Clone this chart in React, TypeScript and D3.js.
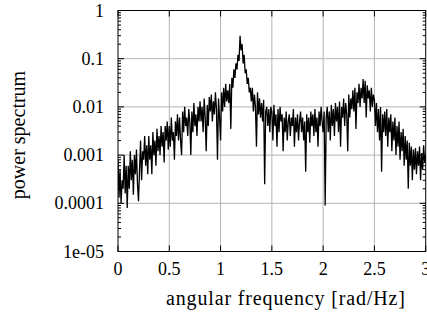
import React from "react";
import * as d3 from "d3";

// angular frequency step between samples
const freqStep = 0.01;

// power spectrum values, one per 0.01 rad/Hz from 0 to 3
const powerSpectrum: number[] = [
  // 0.00 - 0.09
  8e-4, 1.3e-4, 5e-4, 1e-4, 3e-4, 2e-4, 1e-3, 1.6e-4, 6e-4, 8e-5,
  // 0.10 - 0.19
  6e-4, 2e-4, 1.2e-3, 3e-4, 8e-4, 1.5e-4, 1e-3, 4e-4, 1.3e-3, 2.5e-4,
  // 0.20 - 0.29
  1.1e-4, 5e-4, 2e-3, 3e-4, 1.2e-3, 8e-4, 2.5e-3, 6e-4, 1.6e-3, 4e-4,
  // 0.30 - 0.39
  2.5e-3, 8e-4, 1.6e-3, 4e-4, 3e-3, 1e-3, 2e-3, 6e-4, 3.5e-3, 1.2e-3,
  // 0.40 - 0.49
  2.5e-3, 1e-3, 4e-3, 1.5e-3, 3e-3, 7e-4, 4e-3, 2e-3, 5e-3, 1.3e-3,
  // 0.50 - 0.59
  4e-3, 1.5e-3, 6e-3, 2e-3, 3e-3, 8e-4, 5e-3, 2.5e-3, 7e-3, 2e-3,
  // 0.60 - 0.69
  6e-3, 2e-3, 1e-3, 8e-3, 3e-3, 1e-2, 4e-3, 6e-3, 2.5e-3, 9e-3,
  // 0.70 - 0.79
  5e-3, 1e-3, 8e-3, 3e-3, 1.2e-2, 4e-3, 7e-3, 2.5e-3, 1e-2, 5e-3,
  // 0.80 - 0.89
  1.3e-2, 5e-3, 1e-2, 3e-3, 1.5e-2, 6e-3, 1.2e-3, 1.1e-2, 4e-3, 1.6e-2,
  // 0.90 - 0.99
  8e-3, 1.8e-2, 5e-3, 1.3e-2, 7e-3, 2e-2, 9e-3, 8e-4, 1.5e-2, 6e-3,
  // 1.00 - 1.09
  2e-3, 2e-2, 8e-3, 2.5e-2, 1e-2, 3e-2, 1.3e-2, 2.2e-2, 1.2e-2, 3e-2,
  // 1.10 - 1.19
  3.5e-3, 4e-2, 2.5e-2, 6e-2, 4e-2, 8e-2, 6e-2, 1.2e-1, 9e-2, 3e-1,
  // 1.20 - 1.29
  1.5e-1, 2e-1, 8e-2, 1.2e-1, 5e-2, 6e-2, 3e-2, 4e-2, 2e-2, 2.5e-2,
  // 1.30 - 1.39
  1.3e-2, 2.5e-2, 8e-3, 1.8e-2, 1e-2, 1.5e-3, 2e-2, 7e-3, 1.5e-2, 6e-3,
  // 1.40 - 1.49
  1.2e-2, 5e-3, 1.4e-2, 2.5e-4, 8e-3, 1e-2, 4e-3, 9e-3, 3e-3, 1e-2,
  // 1.50 - 1.59
  8e-3, 2e-3, 1.1e-2, 4e-3, 7e-3, 1.5e-3, 9e-3, 3e-3, 1e-2, 5e-3,
  // 1.60 - 1.69
  7e-3, 1.2e-3, 6e-3, 3e-3, 8e-3, 2e-3, 5e-3, 7e-3, 2.5e-3, 6e-3,
  // 1.70 - 1.79
  4e-3, 9e-3, 1.5e-3, 6e-3, 3e-3, 7e-3, 2e-3, 5e-3, 8e-3, 3e-3,
  // 1.80 - 1.89
  6e-3, 2e-3, 5e-3, 4.5e-4, 7e-3, 3e-3, 6e-3, 1.8e-3, 8e-3, 4e-3,
  // 1.90 - 1.99
  7e-3, 2.5e-3, 9e-3, 3e-3, 6e-3, 1.5e-3, 8e-3, 4e-3, 1e-2, 5e-3,
  // 2.00 - 2.09
  3e-3, 8e-3, 9e-5, 6e-3, 1e-2, 3e-3, 8e-3, 2e-3, 1.1e-2, 4e-3,
  // 2.10 - 2.19
  9e-3, 2.5e-3, 1.2e-2, 5e-3, 1e-2, 3e-3, 1.3e-2, 1.5e-3, 1e-2, 6e-3,
  // 2.20 - 2.29
  1.5e-2, 4e-3, 1.2e-2, 7e-3, 1.2e-3, 1.8e-2, 6e-3, 1.5e-2, 9e-3, 2.2e-2,
  // 2.30 - 2.39
  8e-3, 2.5e-2, 3.5e-3, 2e-2, 1.2e-2, 3e-2, 1e-2, 2.5e-2, 1.5e-2, 3.8e-2,
  // 2.40 - 2.49
  1.2e-2, 3.5e-2, 6e-3, 2.8e-2, 1.5e-2, 2.2e-2, 8e-3, 2.5e-2, 1e-2, 1.8e-2,
  // 2.50 - 2.59
  1.4e-2, 4e-3, 1.2e-2, 3e-3, 9e-3, 2e-3, 1e-2, 4.5e-4, 7e-3, 3e-3,
  // 2.60 - 2.69
  8e-3, 2.5e-3, 9e-3, 1.5e-3, 6e-3, 3e-3, 7e-3, 1.2e-3, 5e-3, 2e-3,
  // 2.70 - 2.79
  6e-3, 1e-3, 4e-3, 1.5e-3, 5e-3, 8e-4, 3e-3, 1.2e-3, 3.5e-3, 6e-4,
  // 2.80 - 2.89
  2.5e-3, 8e-4, 2e-3, 2e-4, 1.8e-3, 6e-4, 1.5e-3, 3e-4, 1.3e-3, 5e-4,
  // 2.90 - 3.00
  1.4e-3, 4e-4, 1.2e-3, 6e-4, 1.5e-3, 3e-4, 1.1e-3, 5e-4, 1.6e-3, 7e-4, 1e-3,
];

const xTickValues = [0, 0.5, 1, 1.5, 2, 2.5, 3];
const xTickLabels = ["0", "0.5", "1", "1.5", "2", "2.5", "3"];
const yTickValues = [1, 0.1, 0.01, 0.001, 0.0001, 0.00001];
const yTickLabels = ["1", "0.1", "0.01", "0.001", "0.0001", "1e-05"];
const yMinorMultipliers = [2, 3, 4, 5, 6, 7, 8, 9];

const xLabel = "angular frequency [rad/Hz]";
const yLabel = "power spectrum";

const W = 427;
const H = 315;
const left = 118;
const right = 425.7;
const top = 10.5;
const bottom = 251.5;

export default function App() {
  const x = d3.scaleLinear().domain([0, 3]).range([left, right]);
  const y = d3.scaleLog().domain([1e-5, 1]).range([bottom, top]);

  const pts: [number, number][] = powerSpectrum.map((v, i) => [i * freqStep, v]);
  const line = d3
    .line<[number, number]>()
    .x((d) => x(d[0]))
    .y((d) => y(d[1]));

  const minor: number[] = [];
  for (let e = -5; e < 0; e++) {
    for (const m of yMinorMultipliers) minor.push(m * Math.pow(10, e));
  }

  const font = "'Liberation Serif', 'Times New Roman', serif";
  const grid = "#b4b4b4";

  return (
    <svg
      width={W}
      height={H}
      style={{ position: "absolute", left: 0, top: 0, background: "#fff" }}
      fontFamily={font}
    >
      <defs>
        <clipPath id="plotclip">
          <rect x={left} y={top} width={right - left} height={bottom - top} />
        </clipPath>
      </defs>
      <rect x={0} y={0} width={W} height={H} fill="#fff" />
      {/* grid */}
      {xTickValues.slice(1, -1).map((v) => (
        <line key={"gx" + v} x1={x(v)} x2={x(v)} y1={top} y2={bottom} stroke={grid} strokeWidth={1} />
      ))}
      {yTickValues.slice(1, -1).map((v) => (
        <line key={"gy" + v} x1={left} x2={right} y1={y(v)} y2={y(v)} stroke={grid} strokeWidth={1} />
      ))}
      {/* ticks */}
      {xTickValues.map((v) => (
        <g key={"tx" + v}>
          <line x1={x(v)} x2={x(v)} y1={bottom} y2={bottom - 6} stroke="#000" />
          <line x1={x(v)} x2={x(v)} y1={top} y2={top + 6} stroke="#000" />
        </g>
      ))}
      {yTickValues.map((v) => (
        <g key={"ty" + v}>
          <line x1={left} x2={left + 6} y1={y(v)} y2={y(v)} stroke="#000" />
          <line x1={right} x2={right - 6} y1={y(v)} y2={y(v)} stroke="#000" />
        </g>
      ))}
      {minor.map((v, i) => (
        <g key={"my" + i}>
          <line x1={left} x2={left + 3} y1={y(v)} y2={y(v)} stroke="#000" />
          <line x1={right} x2={right - 3} y1={y(v)} y2={y(v)} stroke="#000" />
        </g>
      ))}
      {/* data */}
      <path
        d={line(pts) || ""}
        fill="none"
        stroke="#000"
        strokeWidth={1.3}
        strokeLinejoin="miter"
        clipPath="url(#plotclip)"
      />
      {/* frame */}
      <rect x={left} y={top} width={right - left} height={bottom - top} fill="none" stroke="#000" strokeWidth={1} />
      {/* tick labels */}
      {xTickValues.map((v, i) => (
        <text key={"lx" + v} x={x(v)} y={275} textAnchor="middle" fontSize={18} fill="#000">
          {xTickLabels[i]}
        </text>
      ))}
      {yTickValues.map((v, i) => (
        <text key={"ly" + v} x={104} y={y(v) + 6} textAnchor="end" fontSize={18} fill="#000">
          {yTickLabels[i]}
        </text>
      ))}
      <text
        x={166}
        y={305}
        textAnchor="start"
        fontSize={20}
        fill="#000"
        textLength={239}
        lengthAdjust="spacing"
      >
        {xLabel}
      </text>
      <text
        x={0}
        y={0}
        transform={`translate(25, 135) rotate(-90)`}
        textAnchor="middle"
        fontSize={20}
        fill="#000"
      >
        {yLabel}
      </text>
    </svg>
  );
}
